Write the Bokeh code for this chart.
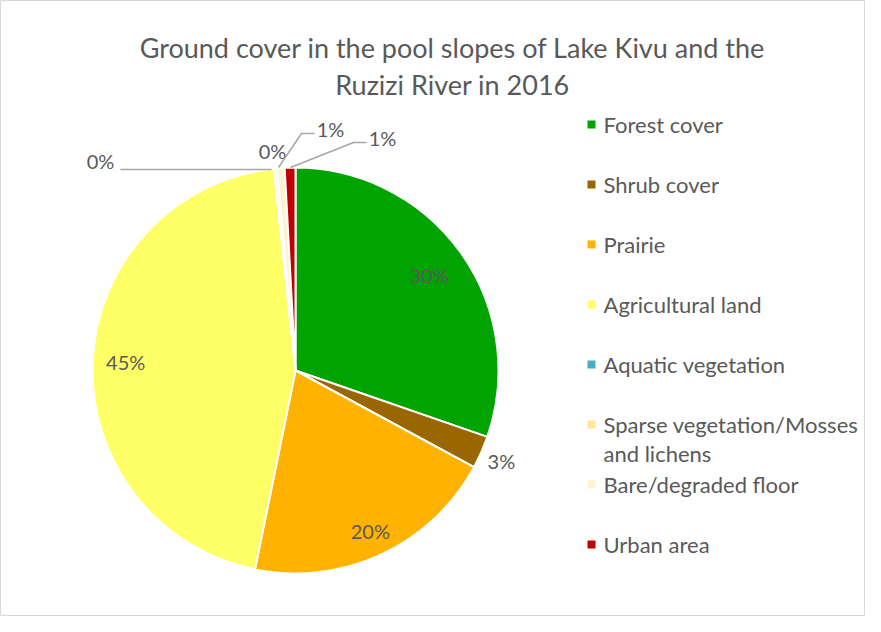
import math
from bokeh.plotting import figure
from bokeh.models import Range1d
from bokeh.core.properties import value
from bokeh.embed import file_html
from bokeh.resources import INLINE

# ---- data ----
categories = ["Forest cover", "Shrub cover", "Prairie", "Agricultural land",
              "Aquatic vegetation", "Sparse vegetation/Mosses and lichens",
              "Bare/degraded floor", "Urban area"]
shares = [30.3, 2.6, 20.3, 45.1, 0.05, 0.2, 0.6, 0.85]
colors = ["#00a300", "#996600", "#ffb300", "#ffff66",
          "#4bacc6", "#ffe699", "#fff2cc", "#c00000"]
title_lines = ["Ground cover in the pool slopes of Lake Kivu and the",
               "Ruzizi River in 2016"]

W, H = 865, 616
FONT = value("Lato")
TXT = "#595959"

def X(px):
    return px

def Y(py):
    return H - py

p = figure(width=W, height=H, output_backend="svg", toolbar_location=None,
           x_range=Range1d(0, W), y_range=Range1d(0, H), min_border=0)
p.axis.visible = False
p.grid.visible = False
p.outline_line_color = "#d9d9d9"
p.background_fill_color = "white"

total = sum(shares)
cx, cy, R = X(295), Y(370), 203

# wedges (clockwise from 12 o'clock)
starts, ends = [], []
a = math.pi / 2
for v in shares:
    da = 2 * math.pi * v / total
    starts.append(a - da)
    ends.append(a)
    a -= da
p.wedge(x=[cx] * len(shares), y=[cy] * len(shares), radius=R,
        start_angle=starts, end_angle=ends, fill_color=colors,
        line_color="white", line_width=2)

pct = [f"{round(v / total * 100)}%" for v in shares]
mids = [(s + e) / 2 for s, e in zip(starts, ends)]

LBL_SIZE = "20px"
# inside labels for big slices / outside for shrub
label_r = {0: 164, 1: 225, 2: 177, 3: 170}
for i, r in label_r.items():
    p.text(x=[cx + r * math.cos(mids[i])], y=[cy + r * math.sin(mids[i])],
           text=[pct[i]], text_font=FONT, text_font_size=LBL_SIZE,
           text_color=TXT, text_align="center", text_baseline="middle")

# small slices with leader lines
small = {
    4: ((100, 160), [(120, 169), (271, 169)]),
    5: ((272, 150), None),
    6: ((330, 128), [(278, 167), (301, 133), (314, 133)]),
    7: ((382, 137), [(290, 167), (353, 142), (366, 142)]),
}
for i, (tp, pts) in small.items():
    p.text(x=[X(tp[0])], y=[Y(tp[1])], text=[pct[i]], text_font=FONT,
           text_font_size=LBL_SIZE, text_color=TXT, text_align="center",
           text_baseline="middle")
    if pts:
        p.line(x=[X(q[0]) for q in pts], y=[Y(q[1]) for q in pts],
               line_color="#a6a6a6", line_width=1.5)

# title
for k, t in enumerate(title_lines):
    p.text(x=[X(452)], y=[Y(47 + 37 * k)], text=[t], text_font=FONT,
           text_font_size="27px", text_color=TXT, text_align="center",
           text_baseline="middle")

# legend
for i, name in enumerate(categories):
    py = 124 + 60 * i
    p.rect(x=[X(591)], y=[Y(py)], width=8, height=8, fill_color=colors[i],
           line_color=None)
    lines = name.replace("Mosses and ", "Mosses\nand ").split("\n")
    for j, ln in enumerate(lines):
        p.text(x=[X(603)], y=[Y(py + 29 * j)], text=[ln], text_font=FONT,
               text_font_size="22px", text_color=TXT, text_align="left",
               text_baseline="middle")

open("out.html", "w").write(file_html(p, INLINE))
